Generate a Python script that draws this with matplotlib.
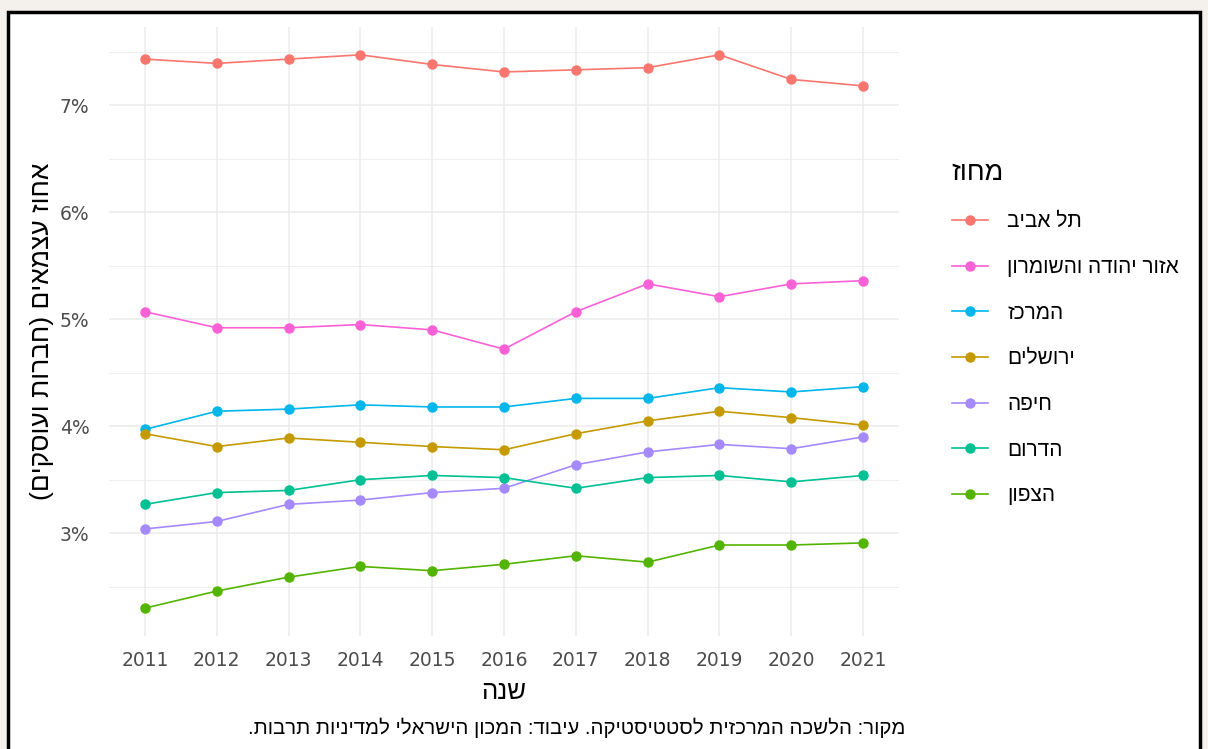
import matplotlib
matplotlib.use("Agg")
import matplotlib.pyplot as plt
from matplotlib.patches import Rectangle
from matplotlib.ticker import FixedLocator, FuncFormatter

plt.rcParams['font.family'] = ['Liberation Sans', 'DejaVu Sans']

years = list(range(2011, 2022))

regions = ["תל אביב", "אזור יהודה והשומרון", "המרכז", "ירושלים", "חיפה", "הדרום", "הצפון"]
colors = ["#F8766D", "#FB61D7", "#00B6EB", "#C49A00", "#A58AFF", "#00C094", "#53B400"]

tel_aviv = [7.43, 7.39, 7.43, 7.47, 7.38, 7.31, 7.33, 7.35, 7.47, 7.24, 7.18]
judea_samaria = [5.07, 4.92, 4.92, 4.95, 4.90, 4.72, 5.07, 5.33, 5.21, 5.33, 5.36]
center = [3.97, 4.14, 4.16, 4.20, 4.18, 4.18, 4.26, 4.26, 4.36, 4.32, 4.37]
jerusalem = [3.93, 3.81, 3.89, 3.85, 3.81, 3.78, 3.93, 4.05, 4.14, 4.08, 4.01]
haifa = [3.04, 3.11, 3.27, 3.31, 3.38, 3.42, 3.64, 3.76, 3.83, 3.79, 3.90]
south = [3.27, 3.38, 3.40, 3.50, 3.54, 3.52, 3.42, 3.52, 3.54, 3.48, 3.54]
north = [2.30, 2.46, 2.59, 2.69, 2.65, 2.71, 2.79, 2.73, 2.89, 2.89, 2.91]
series = [tel_aviv, judea_samaria, center, jerusalem, haifa, south, north]

y_ticks = [3, 4, 5, 6, 7]
y_minor = [2.5, 3.5, 4.5, 5.5, 6.5, 7.5]

x_title = "שנה"
y_title = "אחוז עצמאים (חברות ועוסקים)"
legend_title = "מחוז"
caption = "מקור: הלשכה המרכזית לסטטיסטיקה. עיבוד: המכון הישראלי למדיניות תרבות."


def rtl(s):
    r = s[::-1]
    return r.translate(str.maketrans("()", ")("))


W, H = 1208, 749
fig = plt.figure(figsize=(W / 100, H / 100), dpi=100)
fig.patch.set_facecolor("#F4F1ED")
frame = Rectangle((8 / W, -0.05), (1200 - 8) / W, 1 - 12 / H + 0.05,
                  transform=fig.transFigure, facecolor="white",
                  edgecolor="black", linewidth=2.5, zorder=-5)
fig.patches.append(frame)

ax = fig.add_axes([109 / W, 1 - 636 / H, (899 - 109) / W, (636 - 27) / H])
ax.set_zorder(2)
ax.patch.set_alpha(0)

for vals, col, name in zip(series, colors, regions):
    ax.plot(years, vals, color=col, linewidth=1.2, marker="o", markersize=6.5,
            label=rtl(name), zorder=3)

ax.set_xlim(2010.5, 2021.5)
ax.set_ylim(2.04, 7.73)
ax.set_xticks(years)
ax.set_xticklabels([str(y) for y in years])
ax.yaxis.set_major_locator(FixedLocator(y_ticks))
ax.yaxis.set_minor_locator(FixedLocator(y_minor))
ax.yaxis.set_major_formatter(FuncFormatter(lambda v, p: f"{v:.0f}%"))

ax.grid(True, which="major", axis="both", color="#EBEBEB", linewidth=1.1, zorder=0)
ax.grid(True, which="minor", axis="y", color="#EBEBEB", linewidth=0.6, zorder=0)
for sp in ax.spines.values():
    sp.set_visible(False)
ax.tick_params(axis="both", which="both", length=0, labelsize=13.5,
               labelcolor="#4D4D4D", labelfontfamily="DejaVu Sans")
ax.tick_params(axis="x", pad=11)
ax.tick_params(axis="y", pad=14)

ax.set_xlabel(rtl(x_title), fontsize=18.5, labelpad=7, color="black")
ax.set_ylabel(rtl(y_title), fontsize=19, labelpad=4, color="black")

leg = ax.legend(loc="upper left", bbox_to_anchor=(933 / W, 1 - 141 / H),
                bbox_transform=fig.transFigure, frameon=False,
                title=rtl(legend_title), title_fontsize=19.5, fontsize=15,
                labelspacing=1.28, handlelength=1.75, handletextpad=0.9,
                alignment="left")

fig.text(905 / W, 1 - 728 / H, rtl(caption), ha="right", va="center",
         fontsize=14.7, color="black")

fig.savefig("out.png", dpi=100, facecolor=fig.get_facecolor())
